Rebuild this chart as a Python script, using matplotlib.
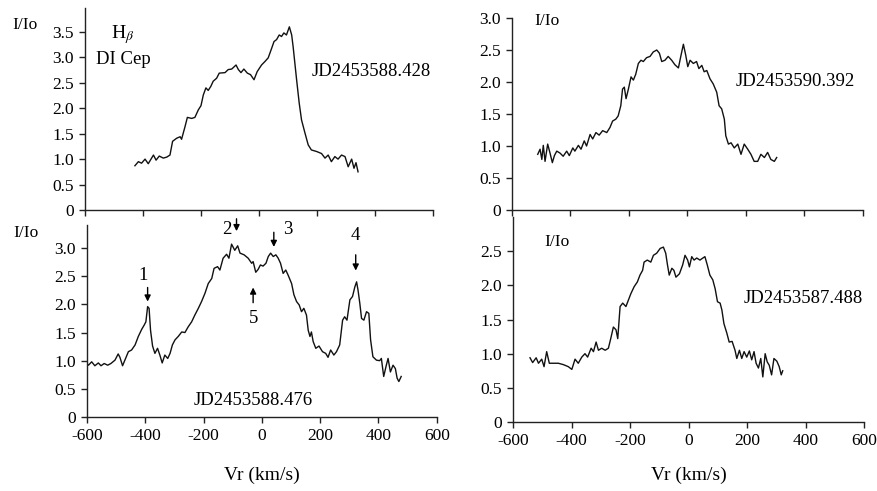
import numpy as np
import matplotlib
matplotlib.use('Agg')
import matplotlib.pyplot as plt
from matplotlib.ticker import FuncFormatter

plt.rcParams.update({
    'font.family': ['Liberation Serif', 'DejaVu Serif'],
    'mathtext.fontset': 'stix',
    'font.size': 12,
    'axes.unicode_minus': False,
})

# Hbeta profiles of DI Cep (Vr in km/s, I/Io)
v_588428 = [-428, -416, -405, -393, -382, -364, -355, -344, -330, -318, -307, -298, -284, -272, -267,
            -255, -247, -232, -221, -209, -200, -192, -183, -175, -166, -158, -146, -137, -117, -106,
            -94, -79, -71, -62, -52, -40, -29, -17, -6, 9, 21, 32, 44, 52, 61, 70, 78, 86, 95, 105,
            113, 118, 130, 139, 147, 159, 170, 181, 199, 216, 228, 239, 250, 262, 273, 285, 297, 308,
            320, 328, 335, 342]
i_588428 = [0.87, 0.95, 0.92, 1.00, 0.91, 1.08, 0.98, 1.06, 1.02, 1.04, 1.08, 1.35, 1.41, 1.44, 1.39,
            1.64, 1.82, 1.80, 1.82, 1.97, 2.05, 2.26, 2.40, 2.35, 2.43, 2.53, 2.59, 2.69, 2.70, 2.76,
            2.77, 2.85, 2.76, 2.70, 2.77, 2.69, 2.66, 2.56, 2.72, 2.85, 2.92, 2.99, 3.18, 3.31, 3.35,
            3.44, 3.41, 3.48, 3.44, 3.60, 3.44, 3.21, 2.56, 2.10, 1.77, 1.51, 1.28, 1.18, 1.15, 1.11,
            1.02, 1.08, 0.95, 1.05, 1.00, 1.08, 1.05, 0.85, 1.00, 0.82, 0.93, 0.75]

v_588476 = [-600, -595, -584, -573, -561, -552, -541, -529, -518, -504, -493, -487, -478, -470, -458,
            -447, -435, -424, -412, -404, -398, -392, -387, -382, -375, -367, -358, -350, -342, -333,
            -323, -315, -307, -298, -287, -275, -264, -253, -241, -230, -218, -207, -195, -184, -172,
            -164, -152, -144, -133, -121, -113, -104, -93, -83, -75, -61, -47, -35, -30, -21, -13,
            -5, 4, 14, 22, 30, 39, 48, 56, 64, 73, 82, 90, 102, 110, 119, 128, 136, 144, 153, 159,
            165, 170, 176, 185, 196, 208, 219, 227, 236, 247, 256, 267, 277, 284, 292, 302, 311, 319,
            325, 330, 336, 342, 350, 359, 367, 373, 381, 393, 404, 410, 418, 427, 433, 441, 450, 458,
            464, 470, 478]
i_588476 = [0.95, 0.92, 0.98, 0.91, 0.96, 0.91, 0.95, 0.92, 0.95, 1.01, 1.12, 1.06, 0.91, 1.01, 1.16,
            1.19, 1.28, 1.43, 1.56, 1.63, 1.69, 1.96, 1.93, 1.54, 1.26, 1.13, 1.22, 1.10, 0.96, 1.10,
            1.04, 1.13, 1.28, 1.37, 1.43, 1.51, 1.50, 1.60, 1.69, 1.81, 1.93, 2.05, 2.20, 2.37, 2.46,
            2.64, 2.67, 2.61, 2.82, 2.89, 2.82, 3.07, 2.96, 3.04, 2.91, 2.88, 2.82, 2.73, 2.76, 2.57,
            2.62, 2.70, 2.68, 2.73, 2.85, 2.91, 2.85, 2.88, 2.82, 2.73, 2.55, 2.61, 2.52, 2.37, 2.17,
            2.05, 1.99, 1.87, 1.93, 1.81, 1.54, 1.43, 1.51, 1.34, 1.22, 1.26, 1.16, 1.13, 1.06, 1.19,
            1.10, 1.16, 1.28, 1.72, 1.78, 1.72, 2.08, 2.14, 2.31, 2.40, 2.25, 2.02, 1.75, 1.72, 1.87,
            1.84, 1.37, 1.07, 1.01, 1.00, 1.04, 0.72, 0.92, 1.04, 0.80, 0.92, 0.86, 0.69, 0.63, 0.72]

v_590392 = [-512, -504, -498, -493, -487, -478, -470, -462, -455, -447, -436, -425, -413, -404, -392,
            -385, -373, -364, -353, -345, -333, -324, -313, -302, -290, -276, -265, -256, -245, -237,
            -228, -222, -216, -210, -202, -193, -185, -177, -168, -159, -151, -140, -128, -117, -105,
            -96, -88, -77, -66, -54, -43, -31, -22, -14, -6, 1, 9, 20, 31, 39, 49, 57, 66, 77, 88,
            100, 108, 117, 126, 131, 140, 149, 160, 172, 183, 194, 206, 217, 228, 240, 251, 263, 274,
            285, 297, 305]
i_590392 = [0.87, 0.95, 0.79, 1.01, 0.76, 1.03, 0.89, 0.74, 0.85, 0.92, 0.89, 0.84, 0.92, 0.85, 0.97,
            0.92, 1.01, 0.95, 1.08, 1.00, 1.18, 1.11, 1.21, 1.17, 1.24, 1.21, 1.29, 1.39, 1.42, 1.47,
            1.63, 1.89, 1.92, 1.74, 1.89, 2.08, 2.03, 2.12, 2.29, 2.34, 2.32, 2.38, 2.40, 2.47, 2.50,
            2.45, 2.32, 2.34, 2.40, 2.34, 2.27, 2.22, 2.42, 2.59, 2.42, 2.24, 2.34, 2.29, 2.32, 2.21,
            2.26, 2.16, 2.18, 2.05, 1.97, 1.84, 1.63, 1.58, 1.42, 1.16, 1.03, 1.05, 0.97, 1.03, 0.87,
            1.03, 0.95, 0.87, 0.76, 0.76, 0.87, 0.82, 0.90, 0.79, 0.76, 0.82]

v_587488 = [-542, -533, -521, -513, -502, -494, -485, -476, -462, -445, -428, -411, -399, -388, -377,
            -365, -354, -345, -333, -325, -316, -308, -297, -285, -274, -266, -257, -248, -242, -234,
            -225, -214, -206, -197, -186, -175, -166, -157, -152, -141, -129, -120, -109, -97, -86,
            -78, -72, -66, -57, -50, -43, -31, -20, -12, -3, 3, 11, 19, 28, 39, 49, 56, 64, 73, 83,
            91, 99, 108, 114, 121, 131, 139, 149, 159, 165, 174, 182, 190, 199, 208, 216, 224, 231,
            239, 247, 254, 262, 269, 276, 284, 292, 302, 310, 317, 322]
i_587488 = [0.94, 0.87, 0.94, 0.86, 0.92, 0.81, 1.03, 0.86, 0.86, 0.86, 0.84, 0.81, 0.77, 0.92, 0.86,
            0.95, 1.00, 0.95, 1.08, 1.03, 1.17, 1.05, 1.08, 1.05, 1.08, 1.22, 1.39, 1.35, 1.22, 1.69,
            1.74, 1.69, 1.78, 1.88, 1.98, 2.05, 2.15, 2.22, 2.34, 2.37, 2.34, 2.44, 2.47, 2.54, 2.56,
            2.47, 2.30, 2.15, 2.25, 2.22, 2.12, 2.17, 2.30, 2.44, 2.37, 2.27, 2.42, 2.37, 2.40, 2.37,
            2.40, 2.42, 2.30, 2.15, 2.08, 1.95, 1.76, 1.74, 1.64, 1.44, 1.30, 1.17, 1.18, 1.05, 0.93,
            1.05, 0.93, 1.03, 0.95, 1.04, 0.91, 1.03, 0.86, 0.79, 0.93, 0.66, 1.00, 0.88, 0.83, 0.69,
            0.93, 0.89, 0.81, 0.69, 0.75]

x_ticks = [-600, -400, -200, 0, 200, 400, 600]


def fmt_y(val, pos):
    return '0' if abs(val) < 1e-9 else f'{val:.1f}'


fig = plt.figure(figsize=(8.77, 4.91), dpi=100)

ax_tl = fig.add_axes([0.097, 0.5723, 0.3965, 0.4114])
ax_bl = fig.add_axes([0.0992, 0.1507, 0.3988, 0.3911])
ax_tr = fig.add_axes([0.5838, 0.5723, 0.4002, 0.3910])
ax_br = fig.add_axes([0.585, 0.1405, 0.4002, 0.4175])

# axis, data, y top, y ticks, x label pad (None = no x labels)
panels = [
    (ax_tl, v_588428, i_588428, 3.97, np.arange(0, 3.51, 0.5), None),
    (ax_bl, v_588476, i_588476, 3.41, np.arange(0, 3.01, 0.5), 16),
    (ax_tr, v_590392, i_590392, 3.0, np.arange(0, 3.01, 0.5), None),
    (ax_br, v_587488, i_587488, 3.0, np.arange(0, 2.51, 0.5), 13),
]

for ax, v, i, ytop, yt, xpad in panels:
    ax.plot(v, i, color='#111111', lw=1.0)
    ax.set_xlim(-600, 600)
    ax.set_ylim(0, ytop)
    ax.set_xticks(x_ticks)
    ax.set_yticks(yt)
    ax.yaxis.set_major_formatter(FuncFormatter(fmt_y))
    ax.spines['top'].set_visible(False)
    ax.spines['right'].set_visible(False)
    for s in ('left', 'bottom'):
        ax.spines[s].set_linewidth(1.0)
        ax.spines[s].set_color('#222222')
    ax.tick_params(direction='out', length=4, width=1.0, color='#222222', labelsize=12.5, pad=4)
    if xpad is not None:
        ax.set_xlabel('Vr (km/s)', fontsize=14, labelpad=xpad)
    else:
        ax.tick_params(axis='x', labelbottom=False)

# panel labels
ax_tl.text(-0.21, 0.916, 'I/Io', transform=ax_tl.transAxes, ha='left', va='center', fontsize=12.5)
ax_tl.text(-469, 3.45, r'H$_{\beta}$', ha='center', va='center', fontsize=14)
ax_tl.text(-469, 2.95, 'DI Cep', ha='center', va='center', fontsize=13.5)
ax_tl.text(389, 2.72, 'JD2453588.428', ha='center', va='center', fontsize=13.5)

ax_bl.text(-0.211, 0.958, 'I/Io', transform=ax_bl.transAxes, ha='left', va='center', fontsize=12.5)
ax_bl.text(-30, 0.30, 'JD2453588.476', ha='center', va='center', fontsize=13.5)

ax_tr.text(-481, 2.95, 'I/Io', ha='center', va='center', fontsize=12.5)
ax_tr.text(367, 2.01, 'JD2453590.392', ha='center', va='center', fontsize=13.5)

ax_br.text(-451, 2.64, 'I/Io', ha='center', va='center', fontsize=12.5)
ax_br.text(392, 1.81, 'JD2453587.488', ha='center', va='center', fontsize=13.5)

# feature markers on the JD2453588.476 profile
arrow = dict(arrowstyle='-|>', color='black', lw=1.0, mutation_scale=9, shrinkA=0, shrinkB=0)
marks = [
    ('1', -407, 2.52, -392, 2.30, -392, 2.05),
    ('2', -121, 3.33, -87, 3.52, -87, 3.30),
    ('3', 90, 3.33, 41, 3.28, 41, 3.02),
    ('4', 319, 3.23, 322, 2.88, 322, 2.60),
]
for lab, tx, ty, x0, y0, x1, y1 in marks:
    ax_bl.text(tx, ty, lab, ha='center', va='center', fontsize=13.5, clip_on=False)
    ax_bl.annotate('', xy=(x1, y1), xytext=(x0, y0), arrowprops=arrow, annotation_clip=False)
ax_bl.text(-30, 1.75, '5', ha='center', va='center', fontsize=13.5)
ax_bl.annotate('', xy=(-30, 2.30), xytext=(-30, 2.03), arrowprops=arrow)

fig.savefig('out.png', dpi=100)
